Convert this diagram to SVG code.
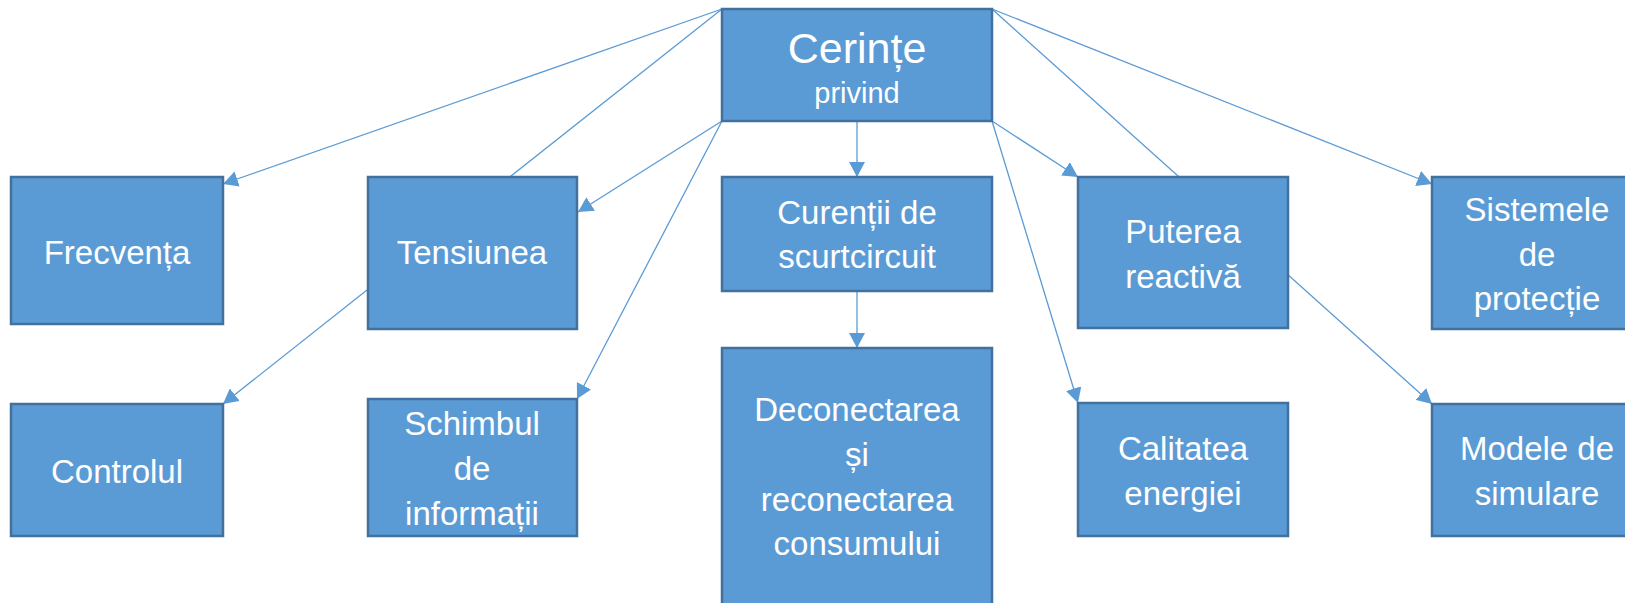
<svg xmlns="http://www.w3.org/2000/svg" width="1625" height="603" viewBox="0 0 1625 603">
<style>
.box{fill:#5B9BD5;stroke:#41719C;stroke-width:2.5}
.t{font-family:"Liberation Sans",Arial,sans-serif;font-size:33px;fill:#FFFFFF;text-anchor:middle}
.c{stroke:#5B9BD5;stroke-width:1.3;fill:none}
</style>
<defs>
<marker id="arr" markerUnits="userSpaceOnUse" markerWidth="16" markerHeight="16" refX="15" refY="8" orient="auto" viewBox="0 0 16 16">
<path d="M0,0 L15,8 L0,16 Z" fill="#5B9BD5"/>
</marker>
</defs>
<rect width="1625" height="603" fill="#FFFFFF"/>
<g id="connectors">
<line class="c" x1="722" y1="9" x2="223" y2="184" marker-end="url(#arr)"/>
<line class="c" x1="722" y1="9" x2="223" y2="404" marker-end="url(#arr)"/>
<line class="c" x1="722" y1="121" x2="578" y2="212" marker-end="url(#arr)"/>
<line class="c" x1="722" y1="121" x2="577" y2="399" marker-end="url(#arr)"/>
<line class="c" x1="857" y1="121" x2="857" y2="177" marker-end="url(#arr)"/>
<line class="c" x1="857" y1="291" x2="857" y2="348" marker-end="url(#arr)"/>
<line class="c" x1="992" y1="121" x2="1078" y2="177" marker-end="url(#arr)"/>
<line class="c" x1="992" y1="121" x2="1078" y2="403" marker-end="url(#arr)"/>
<line class="c" x1="992" y1="9" x2="1432" y2="404" marker-end="url(#arr)"/>
<line class="c" x1="992" y1="9" x2="1432" y2="184" marker-end="url(#arr)"/>
</g>
<g id="n-cerinte">
<rect class="box" x="722" y="9" width="270" height="112"/>
<text class="t" x="857" y="63" style="font-size:43px">Cerințe</text>
<text class="t" x="857" y="103" style="font-size:29px">privind</text>
</g>
<g id="n-frecventa">
<rect class="box" x="11" y="177" width="212" height="147"/>
<text class="t" x="117" y="264">Frecvența</text>
</g>
<g id="n-tensiunea">
<rect class="box" x="368" y="177" width="209" height="152"/>
<text class="t" x="472" y="264">Tensiunea</text>
</g>
<g id="n-curentii">
<rect class="box" x="722" y="177" width="270" height="114"/>
<text class="t" x="857" y="224">Curenții de</text>
<text class="t" x="857" y="268">scurtcircuit</text>
</g>
<g id="n-puterea">
<rect class="box" x="1078" y="177" width="210" height="151"/>
<text class="t" x="1183" y="243">Puterea</text>
<text class="t" x="1183" y="288">reactivă</text>
</g>
<g id="n-sistemele">
<rect class="box" x="1432" y="177" width="211" height="152"/>
<text class="t" x="1537" y="221">Sistemele</text>
<text class="t" x="1537" y="266">de</text>
<text class="t" x="1537" y="310">protecție</text>
</g>
<g id="n-controlul">
<rect class="box" x="11" y="404" width="212" height="132"/>
<text class="t" x="117" y="483">Controlul</text>
</g>
<g id="n-schimbul">
<rect class="box" x="368" y="399" width="209" height="137"/>
<text class="t" x="472" y="435">Schimbul</text>
<text class="t" x="472" y="480">de</text>
<text class="t" x="472" y="525">informații</text>
</g>
<g id="n-deconectarea">
<rect class="box" x="722" y="348" width="270" height="270"/>
<text class="t" x="857" y="421">Deconectarea</text>
<text class="t" x="857" y="466">și</text>
<text class="t" x="857" y="511">reconectarea</text>
<text class="t" x="857" y="555">consumului</text>
</g>
<g id="n-calitatea">
<rect class="box" x="1078" y="403" width="210" height="133"/>
<text class="t" x="1183" y="460">Calitatea</text>
<text class="t" x="1183" y="505">energiei</text>
</g>
<g id="n-modele">
<rect class="box" x="1432" y="404" width="211" height="132"/>
<text class="t" x="1537" y="460">Modele de</text>
<text class="t" x="1537" y="505">simulare</text>
</g>
</svg>
